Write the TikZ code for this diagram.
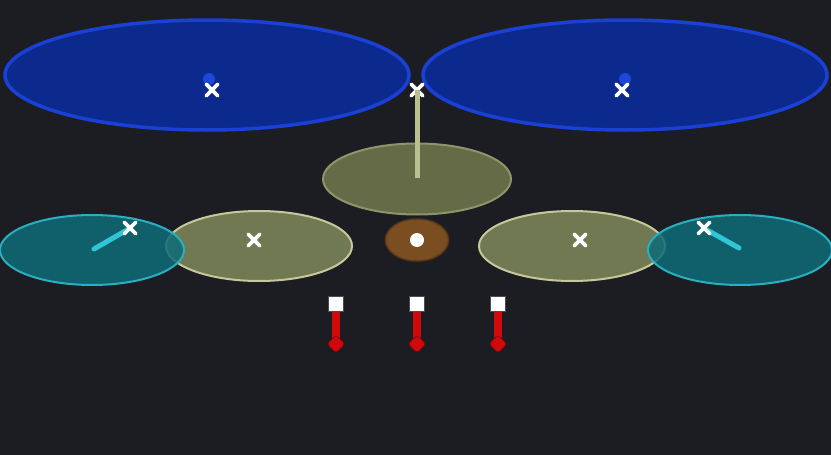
\documentclass[tikz,border=0pt]{standalone}
\usetikzlibrary{shapes.geometric,shapes.misc}
\definecolor{bg}{HTML}{1B1D22}
\definecolor{bluefill}{HTML}{0C2A8E}
\definecolor{blueedge}{HTML}{1A40D4}
\definecolor{bluedot}{HTML}{2250E8}
\definecolor{olivetop}{HTML}{646B46}
\definecolor{olivetopedge}{HTML}{8E956A}
\definecolor{olivefill}{HTML}{717952}
\definecolor{oliveedge}{HTML}{C6C89C}
\definecolor{barcol}{HTML}{B9C08E}
\definecolor{cyanfill}{HTML}{0E6C78}
\definecolor{cyanedge}{HTML}{2AAFC0}
\definecolor{cyanbar}{HTML}{30C6D8}
\definecolor{brownfill}{HTML}{7A4E20}
\definecolor{brownedge}{HTML}{5C3A18}
\definecolor{thred}{HTML}{D00A0A}
\tikzset{
  bigblue/.style={ellipse, inner sep=0pt, fill=bluefill, draw=blueedge, line width=3.5pt, minimum width=404pt, minimum height=110pt},
  olivetopst/.style={ellipse, inner sep=0pt, fill=olivetop, draw=olivetopedge, line width=2pt, minimum width=188pt, minimum height=71pt},
  olivest/.style={ellipse, inner sep=0pt, fill=olivefill, draw=oliveedge, line width=2pt, minimum width=186pt, minimum height=70pt},
  cyanst/.style={ellipse, inner sep=0pt, fill=cyanfill, fill opacity=0.85, draw=cyanedge, line width=2pt, minimum width=184pt, minimum height=70pt},
  brownst/.style={ellipse, inner sep=0pt, fill=brownfill, draw=brownedge, line width=1.5pt, minimum width=63pt, minimum height=42pt},
  xmk/.style={cross out, draw=white, line width=3.6pt, minimum size=8pt, inner sep=0pt, line cap=round},
  bdot/.style={circle, fill=bluedot, fill opacity=0.8, minimum size=12pt, inner sep=0pt},
  wdot/.style={circle, fill=white, minimum size=14pt, inner sep=0pt},
  thsq/.style={rectangle, fill=white, draw=black!70, line width=0.6pt, minimum size=15pt, inner sep=0pt},
  thbulb/.style={diamond, fill=thred, draw=thred!60!black, line width=0.6pt, minimum size=18pt, inner sep=0pt, rounded corners=3pt},
  thstem/.style={draw=thred, line width=8pt},
  olivebar/.style={draw=barcol, line width=5pt},
  cyanbarst/.style={draw=cyanbar, line width=5pt, line cap=round},
}
\begin{document}
\begin{tikzpicture}[x=1pt,y=-1pt]
\useasboundingbox (0,0) rectangle (831,455);
\fill[bg] (0,0) rectangle (831,455);
\clip (0,0) rectangle (831,455);
% big blue ellipses
\node[bigblue] (bl) at (207,75) {};
\node[bigblue] (br) at (625,75) {};
\node[bdot] (bdl) at (209,79) {};
\node[bdot] (bdr) at (625,79) {};
% middle top olive
\node[olivetopst] (ot) at (417,179) {};
\coordinate (barend) at (417,178);
% side olives
\node[olivest] (ol) at (259,246) {};
\node[olivest] (or) at (572,246) {};
% cyan
\node[cyanst] (cl) at (92,250) {};
\node[cyanst] (cr) at (740,250) {};
% brown
\node[brownst] (brn) at (417,240) {};
\node[wdot] (wd) at (417,240) {};
% crosses
\node[xmk] (x1) at (212,90) {};
\node[xmk] (x2) at (417,90) {};
\node[xmk] (x3) at (622,90) {};
\node[xmk] (x4) at (254,240) {};
\node[xmk] (x5) at (580,240) {};
\coordinate (cbl) at (94,249);
\coordinate (cbr) at (739,248);
% bars
\draw[olivebar] (x2.center) -- (barend);
\draw[cyanbarst] (cbl) -- (127,230);
\draw[cyanbarst] (cbr) -- (707,230);
\node[xmk] (x6) at (130,228) {};
\node[xmk] (x7) at (704,228) {};
% thermometers
\foreach \i/\xx in {1/336,2/417,3/498}{
  \node[thsq] (s\i) at (\xx,304) {};
  \node[thbulb] (t\i) at (\xx,344) {};
  \draw[thstem] (s\i.south) -- (t\i.center);
  \node[thbulb] at (t\i) {};
}
\end{tikzpicture}
\end{document}
